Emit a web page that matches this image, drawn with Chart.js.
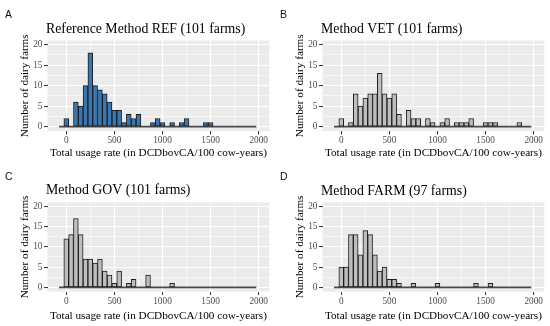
<!DOCTYPE html>
<html><head><meta charset="utf-8">
<script src="https://cdn.jsdelivr.net/npm/chart.js@4/dist/chart.umd.min.js"></script>
<style>
html,body{margin:0;padding:0;background:#fff;}
#wrap{position:relative;width:550px;height:326px;overflow:hidden;}
.panel{position:absolute;width:275px;height:163px;}
canvas{display:block;}
</style></head><body>
<div id="wrap">
 <div class="panel" style="left:0;top:0"><canvas id="c0" width="275" height="163"></canvas></div>
 <div class="panel" style="left:275px;top:0"><canvas id="c1" width="275" height="163"></canvas></div>
 <div class="panel" style="left:0;top:163px"><canvas id="c2" width="275" height="163"></canvas></div>
 <div class="panel" style="left:275px;top:163px"><canvas id="c3" width="275" height="163"></canvas></div>
</div>
<script>
// ---- data (bin centres, counts per bin) ----
const binCenters = [-50,0,50,100,150,200,250,300,350,400,450,500,550,600,650,700,750,800,850,900,950,
  1000,1050,1100,1150,1200,1250,1300,1350,1400,1450,1500,1550,1600,1650,1700,1750,1800,1850,1900,1950];
const refCounts  = [0,2,0,6,5,10,18,10,9,8,6,4,4,1,3,2,3,0,0,1,2, 1,0,1,0,1,2,0,0,0,1,1,0,0,0,0,0,0,0,0,0];
const vetCounts  = [0,2,0,1,8,5,7,8,8,13,8,7,8,3,0,4,2,2,0,2,1, 0,1,2,0,1,1,1,2,0,0,1,1,1,0,0,0,0,1,0,0];
const govCounts  = [0,12,13,17,13,7,7,6,7,4,3,1,4,0,1,2,0,0,3,0,0, 0,0,1,0,0,0,0,0,0,0,0,0,0,0,0,0,0,0,0,0];
const farmCounts = [0,5,5,13,13,8,14,13,8,4,5,2,2,1,0,0,1,0,0,0,0, 1,0,0,0,0,0,0,0,1,0,0,1,0,0,0,0,0,0,0,0];

const panelLetters = ['A','B','C','D'];
const panelTitles = ['Reference Method REF (101 farms)','Method VET (101 farms)','Method GOV (101 farms)','Method FARM (97 farms)'];
const xTickValues = [0,250,500,750,1000,1250,1500,1750,2000];
const yTickValues = [0,2.5,5,7.5,10,12.5,15,17.5,20];
const xAxisTitle = 'Total usage rate (in DCDbovCA/100 cow-years)';
const yAxisTitle = 'Number of dairy farms';

const seriesCounts = [refCounts, vetCounts, govCounts, farmCounts];
const barFills = ['#3A77B1','#BEBEBE','#BEBEBE','#BEBEBE'];

// ---- layout per panel ----
const layouts = [
  {top:40.5, bottom:131, titleY:33.3, letterY:17.5},
  {top:40.5, bottom:131, titleY:33.3, letterY:18},
  {top:39.3, bottom:128.6, titleY:31.2, letterY:17.3},
  {top:39.3, bottom:128.6, titleY:31.5, letterY:16.8}
];

const SERIF = '"Liberation Serif","Times New Roman",serif';
const SANS = '"Liberation Sans",Arial,sans-serif';

const bgPlugin = {
  id:'panelBg',
  beforeDraw(chart){
    const a = chart.chartArea, ctx = chart.ctx;
    ctx.save(); ctx.fillStyle = '#EBEBEB';
    ctx.fillRect(a.left, a.top, a.right-a.left, a.bottom-a.top);
    ctx.restore();
  }
};
const textPlugin = {
  id:'panelText',
  afterDraw(chart, args, opts){
    const ctx = chart.ctx;
    ctx.save();
    ctx.fillStyle = '#111';
    ctx.textAlign = 'left'; ctx.textBaseline = 'alphabetic';
    ctx.font = '10.5px ' + SANS;
    ctx.fillText(opts.letter, 5, opts.letterY);
    ctx.fillStyle = '#000';
    ctx.font = '13.8px ' + SERIF;
    ctx.fillText(opts.title, 46, opts.titleY);
    ctx.restore();
  }
};

function makeChart(i){
  const L = layouts[i];
  const counts = seriesCounts[i];
  const half = (binCenters[1]-binCenters[0])/2;
  const barData = binCenters.map((c,k)=>({x:c, y:counts[k]}));
  const baseData = [{x:binCenters[0]-half, y:0},{x:binCenters[binCenters.length-1]+half, y:0}];
  new Chart(document.getElementById('c'+i), {
    type:'bar',
    data:{datasets:[
      {type:'bar', data:barData, backgroundColor:barFills[i], borderColor:'#1E1E1E', borderWidth:1,
       borderSkipped:false, barPercentage:1, categoryPercentage:1, order:0},
      {type:'line', data:baseData, borderColor:'#4A4A4A', borderWidth:1.8, pointRadius:0, order:1}
    ]},
    options:{
      responsive:false, animation:false, devicePixelRatio:1,
      layout:{padding:{top:L.top, right:5.7, left:0, bottom:0}},
      plugins:{legend:{display:false}, tooltip:{enabled:false},
        panelText:{letter:panelLetters[i], title:panelTitles[i], titleY:L.titleY, letterY:L.letterY}},
      scales:{
        x:{type:'linear', min:-195, max:2110, offset:false,
          afterBuildTicks:s=>{s.ticks = xTickValues.map(v=>({value:v}));},
          afterFit:s=>{s.height = 163 - L.bottom;},
          border:{display:false},
          grid:{offset:false, color:'#FFFFFF', lineWidth:c=>(c.tick && c.tick.value%500===0)?1.1:0.55,
            tickLength:3.5, tickWidth:1,
            tickColor:c=>(c.tick && c.tick.value%500===0)?'#333333':'rgba(0,0,0,0)'},
          ticks:{callback:v=>(v%500===0?String(v):''), color:'#4D4D4D', autoSkip:false, maxRotation:0,
            font:{family:SERIF, size:9.3}, padding:0.5},
          title:{display:true, text:xAxisTitle, color:'#000', font:{family:SERIF, size:11.2},
            padding:{top:0, bottom:3.3}}
        },
        y:{min:-1.05, max:21,
          afterBuildTicks:s=>{s.ticks = yTickValues.map(v=>({value:v}));},
          afterFit:s=>{s.width = 47.5;},
          border:{display:false},
          grid:{color:'#FFFFFF', lineWidth:c=>(c.tick && c.tick.value%5===0)?1.1:0.55,
            tickLength:3.5, tickWidth:1,
            tickColor:c=>(c.tick && c.tick.value%5===0)?'#333333':'rgba(0,0,0,0)'},
          ticks:{callback:v=>(v%5===0?String(v):''), color:'#4D4D4D', autoSkip:false,
            font:{family:SERIF, size:9.3}, padding:1.5},
          title:{display:true, text:yAxisTitle, color:'#000', font:{family:SERIF, size:11.2},
            padding:{top:18.7, bottom:0}}
        }
      }
    },
    plugins:[bgPlugin, textPlugin]
  });
}
for (let i=0;i<4;i++) makeChart(i);
</script>
</body></html>
